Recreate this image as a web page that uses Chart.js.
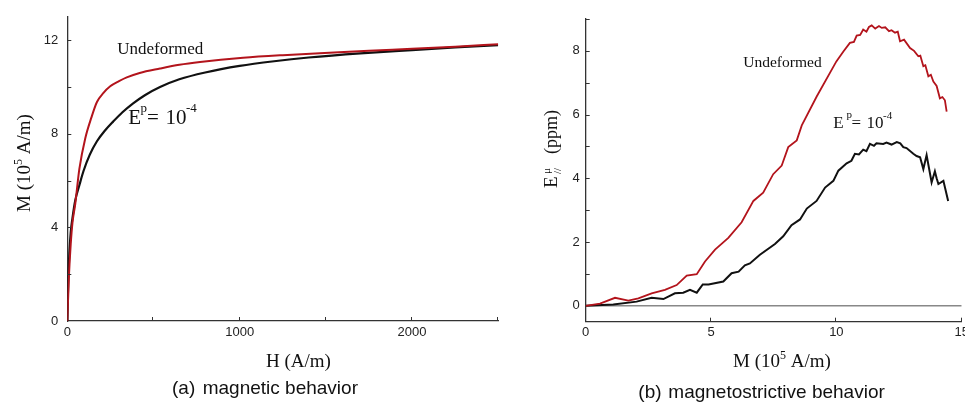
<!DOCTYPE html>
<html><head><meta charset="utf-8">
<script src="https://cdn.jsdelivr.net/npm/chart.js@4/dist/chart.umd.min.js"></script>
<style>
html,body{margin:0;padding:0;background:#fff;overflow:hidden;width:965px;height:410px;position:relative}
canvas{position:absolute;top:0}
#ca{left:0}
#cb{left:520px}
</style></head>
<body>
<canvas id="ca" width="520" height="410"></canvas>
<canvas id="cb" width="480" height="410"></canvas>
<script>
// ---------- (a) magnetic behavior ----------
const hUndeformed = [0,10,20,30,46,70,104,140,172,210,249,300,345,420,538,650,770,1020,1250,1465,1750,2000,2250,2500];
const mUndeformed = [0,2.0,3.3,4.2,5.0,6.5,7.8,8.7,9.36,9.75,10.03,10.25,10.41,10.6,10.79,10.95,11.07,11.25,11.36,11.44,11.55,11.63,11.72,11.83];
const hDeformed = [0,5,12,20,30,46,70,94,130,172,220,266,320,382,450,538,650,800,1000,1200,1400,1700,2000,2250,2500];
const mDeformed = [0,1.6,2.9,3.8,4.4,5.15,5.8,6.41,7.1,7.68,8.15,8.52,8.92,9.3,9.65,10.0,10.33,10.62,10.9,11.1,11.26,11.44,11.58,11.69,11.79];
const aXLabels = [0,1000,2000];
const aYLabels = [0,4,8,12];
const aXMarks = [500,1000,1500,2000,2500];
const aYMarks = [2,4,6,8,10,12];

// ---------- (b) magnetostrictive behavior ----------
const mRed = [0,0.57,1.17,1.7,2.1,2.63,3.16,3.63,4.03,4.43,4.76,5.16,5.69,6.22,6.69,7.08,7.48,7.82,8.08,8.42,8.62,9.21,10.0,10.28,10.54,10.7,10.81,10.95,11.07,11.2,11.3,11.41,11.55,11.7,11.81,11.95,12.1,12.2,12.34,12.45,12.54,12.7,12.94,13.1,13.27,13.35,13.47,13.55,13.67,13.77,13.87,14.0,14.13,14.23,14.33,14.4];
const eRed = [0,0.07,0.25,0.16,0.23,0.39,0.5,0.65,0.95,0.99,1.39,1.76,2.13,2.62,3.29,3.55,4.13,4.4,4.98,5.19,5.66,6.56,7.67,7.98,8.25,8.28,8.48,8.5,8.67,8.6,8.75,8.8,8.7,8.78,8.72,8.74,8.62,8.65,8.57,8.6,8.3,8.35,8.09,8.0,7.83,7.85,7.52,7.55,7.2,7.25,7.04,6.9,6.51,6.55,6.45,6.09];
const mBlack = [0,1.1,2.03,2.63,3.1,3.56,3.89,4.16,4.43,4.67,4.9,5.49,5.82,6.1,6.35,6.55,6.95,7.55,7.88,8.21,8.55,8.82,9.21,9.55,9.88,10.08,10.41,10.6,10.74,10.9,11.07,11.2,11.34,11.5,11.6,11.87,12.0,12.2,12.41,12.55,12.67,12.8,13.07,13.2,13.34,13.47,13.6,13.7,13.8,13.93,14.0,14.07,14.27,14.46];
const eBlack = [0,0.04,0.13,0.25,0.21,0.39,0.41,0.5,0.41,0.67,0.67,0.76,1.02,1.07,1.27,1.33,1.6,1.94,2.18,2.53,2.71,3.05,3.29,3.71,3.92,4.24,4.47,4.55,4.77,4.75,4.9,4.85,5.08,5.02,5.1,5.08,5.12,5.06,5.14,5.1,4.98,4.95,4.77,4.7,4.66,4.29,4.73,4.3,3.87,4.22,4.0,3.82,3.92,3.29];
const zeroLineM = [0,15];
const zeroLineE = [0,0];
const bXLabels = [0,5,10,15];
const bYLabels = [0,2,4,6,8];
const bXMarks = [5,10,15];
const bYMarks = [1,2,3,4,5,6,7,8,9];

const RED = '#b3141c', BLACK = '#111111', AXIS = '#333333';
const SERIF = '"Liberation Serif", "DejaVu Serif", serif';
const SANS = '"Liberation Sans", Arial, sans-serif';

const pts = (xs, ys) => xs.map((v, i) => ({x: v, y: ys[i]}));

function rich(ctx, x, y, segs) {
  ctx.textAlign = 'left'; ctx.textBaseline = 'alphabetic'; ctx.fillStyle = '#111';
  let cx = x;
  segs.forEach(s => {
    ctx.font = s[1] + 'px ' + (s[3] || SERIF);
    if (s[4] !== undefined) cx = s[4];
    ctx.fillText(s[0], cx, y + (s[2] || 0));
    cx += ctx.measureText(s[0]).width;
  });
}

function tickPlugin(xm, ym, len, drawTexts) {
  return {
    id: 'inwardTicks',
    afterDraw(chart) {
      const {ctx, chartArea: a, scales: {x, y}} = chart;
      ctx.save();
      ctx.strokeStyle = AXIS; ctx.lineWidth = 1;
      xm.forEach(v => {
        const px = Math.round(x.getPixelForValue(v)) - 0.5;
        ctx.beginPath(); ctx.moveTo(px, a.bottom); ctx.lineTo(px, a.bottom - len); ctx.stroke();
      });
      ym.forEach(v => {
        const py = Math.round(y.getPixelForValue(v)) + 0.5;
        ctx.beginPath(); ctx.moveTo(a.left, py); ctx.lineTo(a.left + len, py); ctx.stroke();
      });
      ctx.restore();
      ctx.save(); drawTexts(ctx); ctx.restore();
    }
  };
}

function scaleX(min, max, labels, h, pad) {
  return {
    type: 'linear', min: min, max: max,
    grid: {display: false, drawTicks: false},
    border: {display: true, color: AXIS, width: 1.3},
    ticks: {font: {family: SANS, size: 13}, color: '#222', padding: pad, maxRotation: 0, autoSkip: false, includeBounds: false,
            callback: v => String(v)},
    afterBuildTicks(s) { s.ticks = labels.map(v => ({value: v})); },
    afterFit(s) { s.height = h; }
  };
}
function scaleY(min, max, labels, w, pad) {
  return {
    type: 'linear', min: min, max: max,
    grid: {display: false, drawTicks: false},
    border: {display: true, color: AXIS, width: 1.3},
    ticks: {font: {family: SANS, size: 13}, color: '#222', padding: pad, autoSkip: false, includeBounds: false,
            callback: v => String(v)},
    afterBuildTicks(s) { s.ticks = labels.map(v => ({value: v})); },
    afterFit(s) { s.width = w; }
  };
}

// ----- Chart (a)
new Chart(document.getElementById('ca'), {
  type: 'line',
  data: {datasets: [
    {data: pts(hUndeformed, mUndeformed), borderColor: RED, borderWidth: 2, pointRadius: 0, cubicInterpolationMode: 'monotone', fill: false},
    {data: pts(hDeformed, mDeformed), borderColor: BLACK, borderWidth: 2.2, pointRadius: 0, cubicInterpolationMode: 'monotone', fill: false}
  ]},
  options: {
    responsive: false, animation: false, devicePixelRatio: 1,
    layout: {padding: {left: 0, top: 10.3, right: 21.8, bottom: 0}},
    plugins: {legend: {display: false}, tooltip: {enabled: false}},
    scales: {x: scaleX(0, 2500, aXLabels, 89, 4), y: scaleY(0, 13, aYLabels, 67.3, 9)}
  },
  plugins: [tickPlugin(aXMarks, aYMarks, 4, ctx => {
    rich(ctx, 117.3, 54.3, [['Undeformed', 17]]);
    rich(ctx, 128.3, 124, [['E', 21, 0, SERIF, 128.3], ['p', 13, -12, SERIF, 140.5], ['=', 21, 0, SERIF, 147], ['10', 21, 0, SERIF, 165.5], ['-4', 13, -12, SERIF, 186]]);
    rich(ctx, 266, 366.7, [['H (A/m)', 19]]);
    ctx.save(); ctx.translate(30, 212); ctx.rotate(-Math.PI / 2);
    rich(ctx, 0, 0, [['M (10', 19], ['5', 12, -8], [' A/m)', 19]]);
    ctx.restore();
    rich(ctx, 172, 394, [['(a)', 19, 0, SANS, 172], ['magnetic behavior', 19, 0, SANS, 202.7]]);
  })]
});

// ----- Chart (b)
const OX = 520;
new Chart(document.getElementById('cb'), {
  type: 'line',
  data: {datasets: [
    {data: pts(mRed, eRed), borderColor: RED, borderWidth: 1.8, pointRadius: 0, tension: 0, fill: false},
    {data: pts(mBlack, eBlack), borderColor: BLACK, borderWidth: 2, pointRadius: 0, tension: 0, fill: false},
    {data: pts(zeroLineM, zeroLineE), borderColor: '#888888', borderWidth: 1.5, pointRadius: 0, fill: false}
  ]},
  options: {
    responsive: false, animation: false, devicePixelRatio: 1,
    layout: {padding: {left: 0, top: 19, right: 480 - (961.7 - OX), bottom: 0}},
    plugins: {legend: {display: false}, tooltip: {enabled: false}},
    scales: {x: scaleX(0, 15, bXLabels, 88.3, 3), y: scaleY(-0.5, 9, bYLabels, 585.7 - OX, 6)}
  },
  plugins: [tickPlugin(bXMarks, bYMarks, 4, ctx => {
    rich(ctx, 743.3 - OX, 66.7, [['Undeformed', 15.5]]);
    rich(ctx, 0, 128.3, [['E', 17, 0, SERIF, 833.3 - OX], ['p', 11, -10, SERIF, 846.5 - OX], ['=', 17, 0, SERIF, 851.5 - OX], ['10', 17, 0, SERIF, 866.5 - OX], ['-4', 11, -9, SERIF, 883 - OX]]);
    rich(ctx, 733 - OX, 366.7, [['M (10', 19], ['5', 12, -8], [' A/m)', 19]]);
    ctx.save(); ctx.translate(556.7 - OX, 188); ctx.rotate(-Math.PI / 2);
    rich(ctx, 0, 0, [['E', 19, 0, SERIF, 0], ['\u03bc', 11, -7, SERIF, 14], ['//', 11, 4, SERIF, 14], ['(ppm)', 18, 0, SERIF, 34]]);
    ctx.restore();
    rich(ctx, 0, 398, [['(b)', 19, 0, SANS, 638.3 - OX], ['magnetostrictive behavior', 19, 0, SANS, 668.3 - OX]]);
  })]
});
</script>
</body></html>
